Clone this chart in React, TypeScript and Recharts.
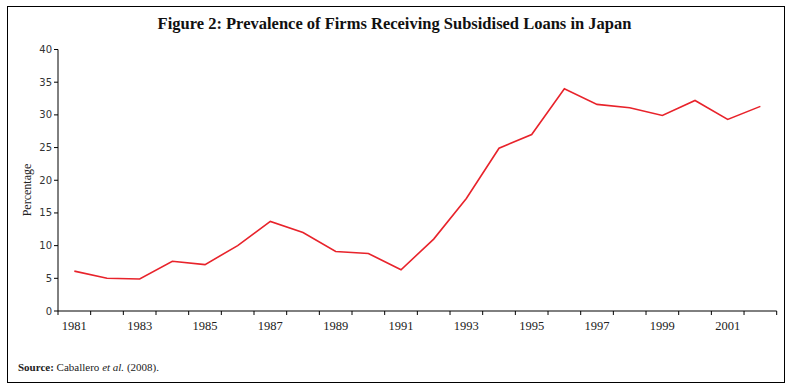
import React from "react";
import { LineChart, Line, XAxis, YAxis } from "recharts";

const YEARS = [1981,1982,1983,1984,1985,1986,1987,1988,1989,1990,1991,1992,1993,1994,1995,1996,1997,1998,1999,2000,2001,2002];
const PREVALENCE = [6.1,5.0,4.9,7.6,7.1,10.0,13.7,12.0,9.1,8.8,6.3,11.0,17.2,24.9,27.0,34.0,31.6,31.1,29.9,32.2,29.3,31.3];
const X_LABELS = [1981,1983,1985,1987,1989,1991,1993,1995,1997,1999,2001];
const Y_TICKS = [0,5,10,15,20,25,30,35,40];
const TITLE = "Figure 2: Prevalence of Firms Receiving Subsidised Loans in Japan";
const Y_LABEL = "Percentage";

const data = YEARS.map((y, i) => ({ year: y, value: PREVALENCE[i] }));
const boundaries = [YEARS[0] - 0.5, ...YEARS.map((y) => y + 0.5)];

const W = 791;
const H = 389;
const M = { top: 49.5, right: 14.3, bottom: 48, left: 28 };
const YW = 30;
const XH = 30;
const PLOT_W = W - M.left - YW - M.right;
const BAND = PLOT_W / YEARS.length;

const XTick = (props: any) => {
  const { x, y, payload } = props;
  const yr = payload.value + 0.5;
  if (!X_LABELS.includes(yr)) return null;
  return (
    <text x={x + BAND / 2} y={y + 13} textAnchor="middle" fontFamily="'Liberation Serif', serif" fontSize={12.5} fill="#222">
      {yr}
    </text>
  );
};

export default function App() {
  return (
    <div style={{ position: "absolute", left: 0, top: 0, width: W, height: H, background: "#fff" }}>
      <div style={{ position: "absolute", left: 7, top: 6, width: 776, height: 375, border: "1px solid #000" }} />
      <div style={{ position: "absolute", left: 0, top: 14, width: W - 2, textAlign: "center", fontFamily: "'Liberation Serif', serif", fontWeight: "bold", fontSize: 16.5, color: "#111" }}>
        {TITLE}
      </div>
      <LineChart width={W} height={H} data={data} margin={M} style={{ position: "absolute", left: 0, top: 0 }}>
        <XAxis
          dataKey="year"
          type="number"
          domain={[boundaries[0], boundaries[boundaries.length - 1]]}
          ticks={boundaries}
          interval={0}
          tick={<XTick />}
          tickSize={4}
          height={XH}
          axisLine={{ stroke: "#000" }}
          tickLine={{ stroke: "#000" }}
          allowDecimals
        />
        <YAxis
          domain={[0, 40]}
          ticks={Y_TICKS}
          interval={0}
          width={YW}
          tickSize={4}
          tickMargin={2}
          axisLine={{ stroke: "#000" }}
          tickLine={{ stroke: "#000" }}
          tick={{ fontFamily: "'DejaVu Sans', sans-serif", fontSize: 10, fill: "#333" }}
        />
        <Line dataKey="value" type="linear" stroke="#e8232b" strokeWidth={1.6} dot={false} isAnimationActive={false} />
      </LineChart>
      <svg width={40} height={120} style={{ position: "absolute", left: 7, top: 130 }}>
        <text x={20} y={60} transform="rotate(-90 20 60)" textAnchor="middle" dominantBaseline="central" fontFamily="'Liberation Serif', serif" fontSize={12} fill="#222">
          {Y_LABEL}
        </text>
      </svg>
      <div style={{ position: "absolute", left: 18, top: 361, fontFamily: "'Liberation Serif', serif", fontSize: 11, color: "#222" }}>
        <b>Source:</b> Caballero <i>et al.</i> (2008).
      </div>
    </div>
  );
}
